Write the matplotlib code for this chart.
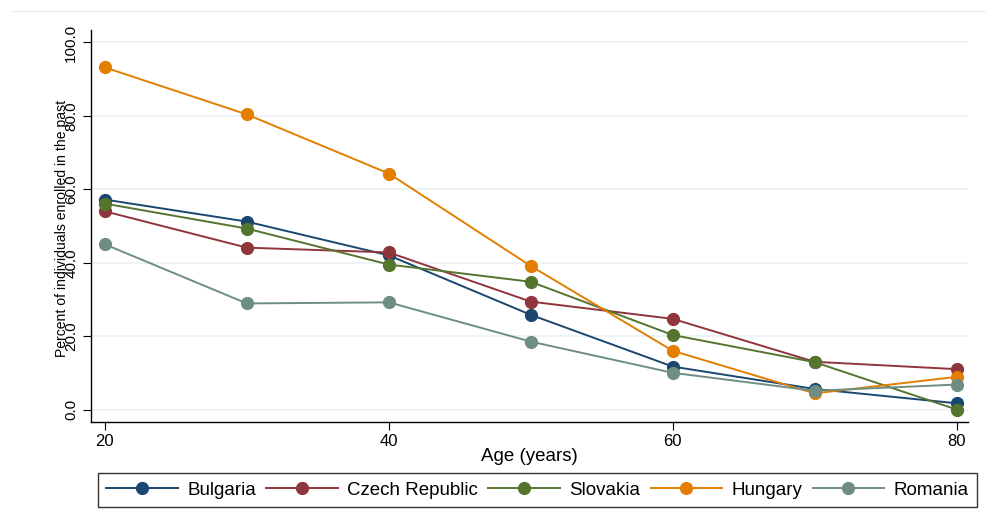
import matplotlib
matplotlib.use("Agg")
import matplotlib.pyplot as plt
from matplotlib.lines import Line2D

plt.rcParams['font.family'] = ['Liberation Sans', 'DejaVu Sans']

ages = [20, 30, 40, 50, 60, 70, 80]
countries = ["Bulgaria", "Czech Republic", "Slovakia", "Hungary", "Romania"]
bulgaria = [57.2, 51.2, 42.0, 25.8, 11.7, 5.6, 1.7]
czech = [54.0, 44.1, 42.8, 29.4, 24.7, 13.0, 11.0]
slovakia = [56.1, 49.3, 39.5, 34.8, 20.3, 12.9, 0.0]
hungary = [93.2, 80.4, 64.3, 39.1, 16.0, 4.4, 8.9]
romania = [45.0, 28.9, 29.2, 18.5, 10.0, 5.1, 6.8]
series = [bulgaria, czech, slovakia, hungary, romania]
colors = ["#1a476f", "#90353b", "#55752f", "#e37e00", "#6e8e84"]
yticks = [0, 20, 40, 60, 80, 100]
xticks = [20, 40, 60, 80]

W, H = 986, 522
fig = plt.figure(figsize=(W / 100, H / 100), dpi=100)
ax = fig.add_axes([90.7 / W, 1 - 422 / H, (968 - 90.7) / W, (422 - 30) / H])

for vals, c, name in zip(series, colors, countries):
    ax.plot(ages, vals, color=c, lw=1.4, marker='o', ms=8.5, mec=c, mfc=c, label=name, zorder=3)

ax.set_xlim(19.0, 80.8)
ax.set_ylim(-3.4, 103.4)
ax.set_yticks(yticks)
ax.set_yticklabels([f"{v:.1f}" for v in yticks], rotation=90, va='center', fontsize=11)
ax.set_xticks(xticks)
ax.set_xticklabels([str(v) for v in xticks], fontsize=12)
ax.grid(axis='y', color='#eaf2f3', lw=1.2, zorder=0)
ax.set_axisbelow(True)
for s in ['top', 'right']:
    ax.spines[s].set_visible(False)
for s in ['left', 'bottom']:
    ax.spines[s].set_color('black')
    ax.spines[s].set_linewidth(1.0)
ax.tick_params(axis='both', length=6, width=0.8, color='black', pad=3)
ax.set_xlabel("Age (years)", fontsize=13.5, labelpad=-1)

fig.text(62 / W, 1 - 228 / H, "Percent of individuals enrolled in the past",
         rotation=90, ha='center', va='center', fontsize=10.1)

# top faint border line
fig.add_artist(Line2D([10 / W, 1.0], [1 - 11 / H, 1 - 11 / H], color='#eaf2f3', lw=1.0))

handles = [Line2D([0], [0], color=c, lw=1.4, marker='o', ms=8.5, mfc=c, mec=c) for c in colors]
leg = fig.legend(handles, countries, loc='lower left',
                 bbox_to_anchor=(98 / W, 1 - 507 / H, 879 / W, 35 / H), mode='expand',
                 ncol=5, frameon=True, fontsize=13.5, handlelength=3.8, columnspacing=0.4,
                 handletextpad=0.5, borderpad=0.45, borderaxespad=0.0,
                 fancybox=False, edgecolor='black')
leg.get_frame().set_linewidth(1.0)

fig.savefig("out.png", dpi=100, facecolor='white')
